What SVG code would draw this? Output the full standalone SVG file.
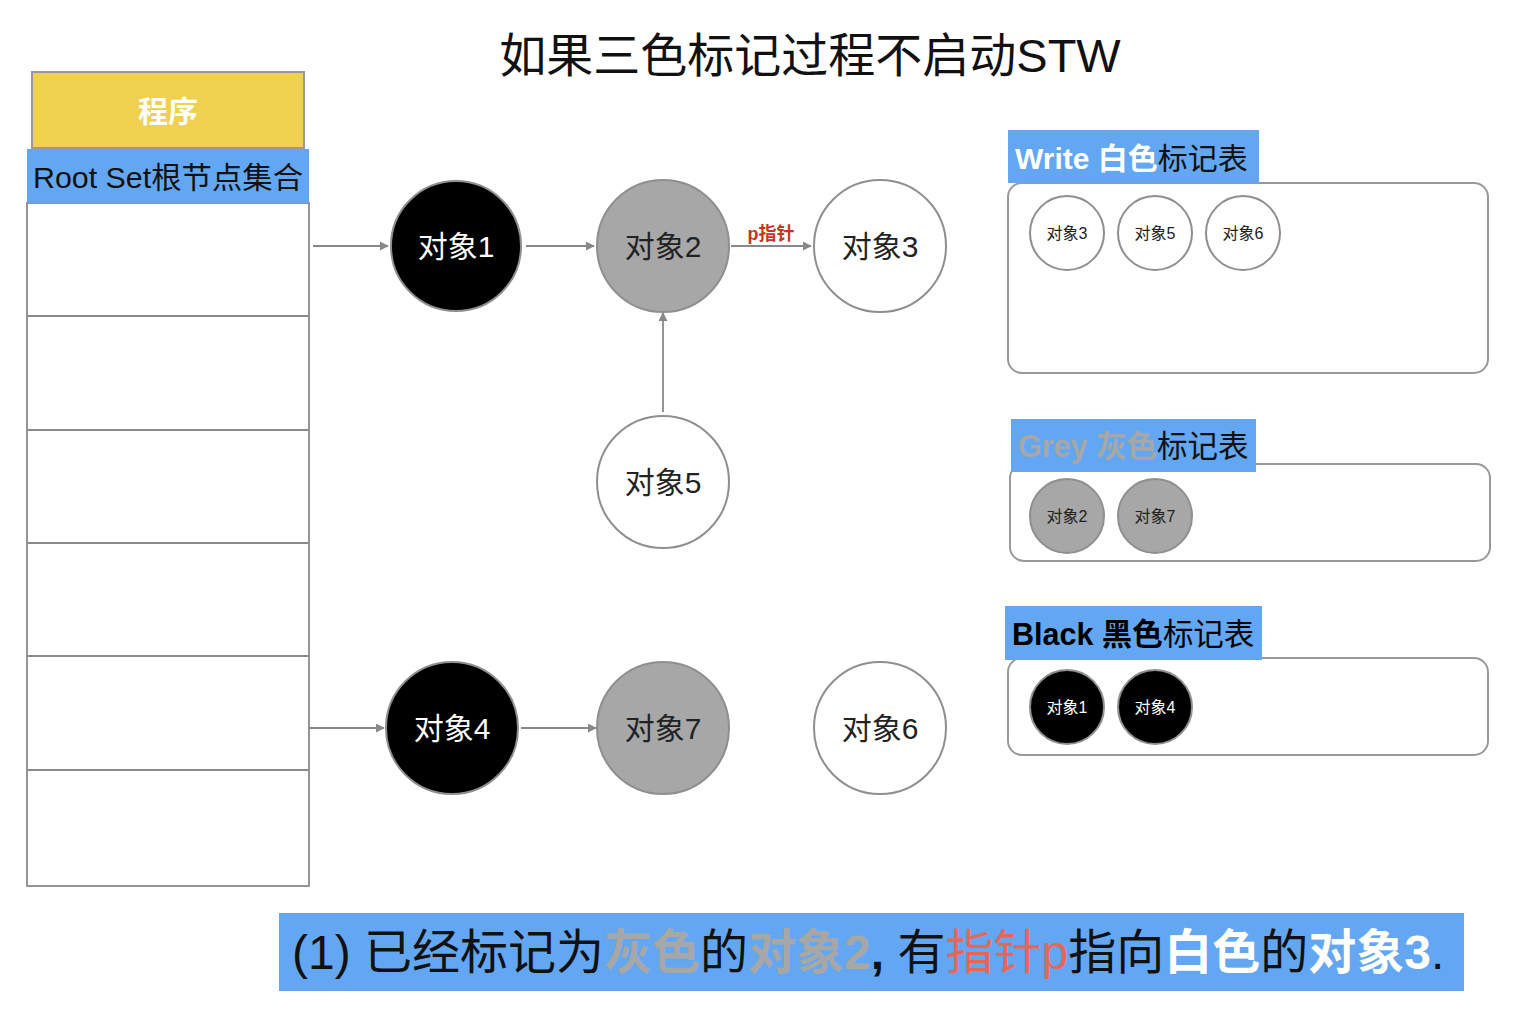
<svg xmlns="http://www.w3.org/2000/svg" width="1540" height="1014" viewBox="0 0 1540 1014">
<style>
text{font-family:"Liberation Sans","Noto Sans CJK SC",sans-serif;}
.ln{stroke:#8a8a8a;stroke-width:1.8;fill:none}
.cw{fill:#fff;stroke:#8f8f8f;stroke-width:2}
.cg{fill:#a6a7a6;stroke:#8f8f8f;stroke-width:2}
.cb{fill:#000;stroke:#8f8f8f;stroke-width:2}
.nt{font-size:30px;text-anchor:middle}
.st{font-size:16px;text-anchor:middle}
.hd{fill:#63a7f2}
.panel{fill:#fff;stroke:#999;stroke-width:2}
.conn{stroke:#888;stroke-width:1.8;fill:none;marker-end:url(#arr)}
</style>
<defs>
<marker id="arr" viewBox="0 0 10 10" refX="9" refY="5" markerWidth="5" markerHeight="5" orient="auto" markerUnits="strokeWidth">
<path d="M0,0 L10,5 L0,10 z" fill="#888"/>
</marker>
</defs>
<rect width="1540" height="1014" fill="#fff"/>
<text x="810" y="72" font-size="47" text-anchor="middle" fill="#111">如果三色标记过程不启动STW</text>

<g id="program">
<rect x="32" y="72" width="272" height="76" fill="#efd14f" stroke="#999" stroke-width="2"/>
<text x="168" y="122" font-size="30" font-weight="bold" text-anchor="middle" fill="#fff">程序</text>
</g>
<g id="rootset">
<rect x="27" y="203" width="282" height="683" fill="#fff" class="ln"/>
<line x1="27" y1="316" x2="309" y2="316" class="ln"/>
<line x1="27" y1="430" x2="309" y2="430" class="ln"/>
<line x1="27" y1="543" x2="309" y2="543" class="ln"/>
<line x1="27" y1="656" x2="309" y2="656" class="ln"/>
<line x1="27" y1="770" x2="309" y2="770" class="ln"/>
<rect x="27" y="149" width="282" height="54" class="hd"/>
<text x="33" y="188" font-size="30" fill="#111" textLength="270" lengthAdjust="spacingAndGlyphs">Root Set根节点集合</text>
</g>

<g id="connectors">
<line x1="313" y1="246" x2="388" y2="246" class="conn"/>
<line x1="526" y1="246" x2="594" y2="246" class="conn"/>
<line x1="731" y1="246" x2="811" y2="246" class="conn"/>
<line x1="663" y1="412" x2="663" y2="313" class="conn"/>
<line x1="309" y1="728" x2="384" y2="728" class="conn"/>
<line x1="521" y1="728" x2="596" y2="728" class="conn"/>
<text x="771" y="240" font-size="18" font-weight="bold" text-anchor="middle" fill="#c8341f">p指针</text>
</g>

<g id="obj1"><circle cx="456" cy="246" r="65" class="cb"/><text x="456" y="257" class="nt" fill="#fff">对象1</text></g>
<g id="obj2"><circle cx="663" cy="246" r="66" class="cg"/><text x="663" y="257" class="nt" fill="#222">对象2</text></g>
<g id="obj3"><circle cx="880" cy="246" r="66" class="cw"/><text x="880" y="257" class="nt" fill="#222">对象3</text></g>
<g id="obj5"><circle cx="663" cy="482" r="66" class="cw"/><text x="663" y="493" class="nt" fill="#222">对象5</text></g>
<g id="obj4"><circle cx="452" cy="728" r="66" class="cb"/><text x="452" y="739" class="nt" fill="#fff">对象4</text></g>
<g id="obj7"><circle cx="663" cy="728" r="66" class="cg"/><text x="663" y="739" class="nt" fill="#222">对象7</text></g>
<g id="obj6"><circle cx="880" cy="728" r="66" class="cw"/><text x="880" y="739" class="nt" fill="#222">对象6</text></g>

<g id="white-table">
<rect x="1008" y="183" width="480" height="190" rx="14" class="panel"/>
<rect x="1008" y="130" width="251" height="53" class="hd"/>
<text x="1015" y="169" font-size="30"><tspan fill="#fff" font-weight="bold">Write 白色</tspan><tspan fill="#111">标记表</tspan></text>
<circle cx="1067" cy="233" r="37" class="cw"/><text x="1067" y="239" class="st" fill="#222">对象3</text>
<circle cx="1155" cy="233" r="37" class="cw"/><text x="1155" y="239" class="st" fill="#222">对象5</text>
<circle cx="1243" cy="233" r="37" class="cw"/><text x="1243" y="239" class="st" fill="#222">对象6</text>
</g>

<g id="grey-table">
<rect x="1010" y="464" width="480" height="97" rx="14" class="panel"/>
<rect x="1011" y="419" width="245" height="53" class="hd"/>
<text x="1018" y="457" font-size="30.5"><tspan fill="#a6a7a6" font-weight="bold">Grey 灰色</tspan><tspan fill="#111">标记表</tspan></text>
<circle cx="1067" cy="516" r="37" class="cg"/><text x="1067" y="522" class="st" fill="#222">对象2</text>
<circle cx="1155" cy="516" r="37" class="cg"/><text x="1155" y="522" class="st" fill="#222">对象7</text>
</g>

<g id="black-table">
<rect x="1008" y="658" width="480" height="97" rx="14" class="panel"/>
<rect x="1005" y="606" width="257" height="54" class="hd"/>
<text x="1012" y="645" font-size="30.5" fill="#000"><tspan font-weight="bold">Black 黑色</tspan><tspan>标记表</tspan></text>
<circle cx="1067" cy="707" r="37" class="cb"/><text x="1067" y="713" class="st" fill="#fff">对象1</text>
<circle cx="1155" cy="707" r="37" class="cb"/><text x="1155" y="713" class="st" fill="#fff">对象4</text>
</g>

<g id="caption">
<rect x="279" y="913" width="1185" height="78" class="hd"/>
<text x="292" y="969" font-size="48" fill="#111"><tspan>(1) 已经标记为</tspan><tspan fill="#a6a7a6" font-weight="bold">灰色</tspan><tspan>的</tspan><tspan fill="#a6a7a6" font-weight="bold">对象2</tspan><tspan font-weight="bold">,</tspan><tspan> 有</tspan><tspan fill="#e5675a">指针p</tspan><tspan>指向</tspan><tspan fill="#fff" font-weight="bold">白色</tspan><tspan>的</tspan><tspan fill="#fff" font-weight="bold">对象3</tspan><tspan>.</tspan></text>
</g>
</svg>
